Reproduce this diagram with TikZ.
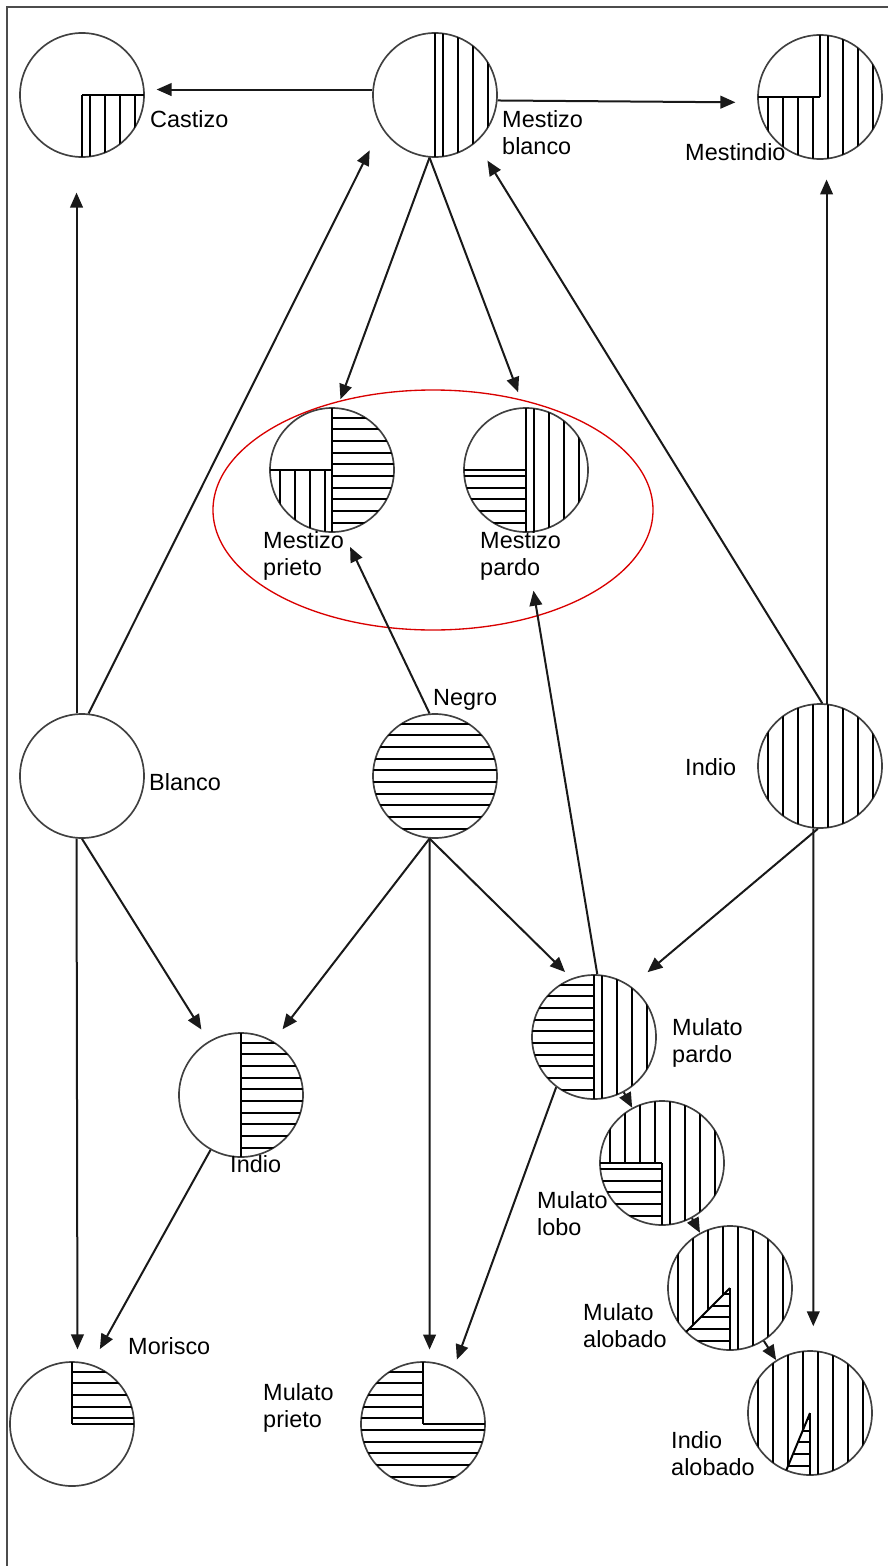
\documentclass[tikz,border=0pt]{standalone}
\usepackage{fontspec}
\setmainfont{Liberation Sans}
\usetikzlibrary{arrows.meta}
\tikzset{>={Triangle[length=0.45cm,width=0.38cm]}}
\colorlet{myred}{red!85!black}
\colorlet{mygray}{black!75}

\tikzset{
  caste/.style={circle, draw=mygray, line width=0.05cm, minimum size=3.72cm, inner sep=0pt},
  hatch/.style={line width=0.06cm, black},
  arr/.style={->, line width=0.06cm, black!90},
  lbl/.style={anchor=base west, align=left, inner sep=0pt, font=\fontsize{20}{23}\selectfont},
}

\def\rad{1.86cm}
\def\vsp{0.45cm}
\def\hsp{0.35cm}

% vertical / horizontal lines in a sector of a circle node
\newcommand{\vsec}[3]{%
  \begin{scope}
    \clip (#1.center) -- ++(#2:\rad) arc[start angle=#2, end angle=#3, radius=\rad] -- cycle;
    \foreach \k in {-4.5,-3.5,...,4.5}
      \draw[hatch] ([xshift=\k*\vsp]#1.center) ++(0,-2cm) -- ++(0,4cm);
  \end{scope}}
\newcommand{\hsec}[3]{%
  \begin{scope}
    \clip (#1.center) -- ++(#2:\rad) arc[start angle=#2, end angle=#3, radius=\rad] -- cycle;
    \foreach \k in {-5.5,-4.5,...,5.5}
      \draw[hatch] ([yshift=\k*\hsp]#1.center) ++(-2cm,0) -- ++(4cm,0);
  \end{scope}}
\newcommand{\cutline}[2]{\draw[hatch] (#1.center) -- ++(#2:\rad);}

\begin{document}
\begin{tikzpicture}[x=0.03cm, y=-0.03cm]
    \useasboundingbox (0,0) rectangle (888,1566);
    \draw[line width=0.06cm, black!70] (7,1566) -- (7,7) -- (888,7);

    % top row
    \node[caste] (castizo) at (82,95) {};
    \node[caste] (mblanco) at (435,95) {};
    \node[caste] (mestindio) at (820,97) {};
    % mestizo group
    \node[caste] (mprieto) at (332,470) {};
    \node[caste] (mpardo) at (526,470) {};
    % parents
    \node[caste] (blanco) at (82,776) {};
    \node[caste] (negro) at (435,776) {};
    \node[caste] (indio) at (820,766) {};
    % lower part
    \node[caste] (indiomid) at (241,1095) {};
    \node[caste] (mulpardo) at (594,1037) {};
    \node[caste] (mullobo) at (662,1163) {};
    \node[caste] (mulalob) at (730,1288) {};
    \node[caste] (morisco) at (72,1424) {};
    \node[caste] (mulprieto) at (423,1424) {};
    \node[caste] (indioalob) at (810,1413) {};

    \vsec{castizo}{-90}{0} \cutline{castizo}{-90} \cutline{castizo}{0}
    \vsec{mblanco}{-90}{90} \cutline{mblanco}{-90} \cutline{mblanco}{90}
    \vsec{mestindio}{180}{450} \cutline{mestindio}{180} \cutline{mestindio}{90}
    \hsec{mprieto}{-90}{90} \vsec{mprieto}{180}{270}
    \cutline{mprieto}{-90} \cutline{mprieto}{90} \cutline{mprieto}{180}
    \vsec{mpardo}{-90}{90} \hsec{mpardo}{180}{270}
    \cutline{mpardo}{-90} \cutline{mpardo}{90} \cutline{mpardo}{180}
    \hsec{negro}{0}{360}
    \vsec{indio}{0}{360}
    \hsec{indiomid}{-90}{90} \cutline{indiomid}{-90} \cutline{indiomid}{90}
    \hsec{mulpardo}{90}{270} \vsec{mulpardo}{-90}{90}
    \cutline{mulpardo}{-90} \cutline{mulpardo}{90}
    \vsec{mullobo}{-90}{180} \hsec{mullobo}{180}{270}
    \cutline{mullobo}{180} \cutline{mullobo}{270}
    \vsec{mulalob}{-90}{225} \hsec{mulalob}{225}{270}
    \cutline{mulalob}{225} \cutline{mulalob}{270}
    \vsec{indioalob}{-90}{247.5} \hsec{indioalob}{247.5}{270}
    \cutline{indioalob}{247.5} \cutline{indioalob}{270}
    \hsec{morisco}{0}{90} \cutline{morisco}{0} \cutline{morisco}{90}
    \hsec{mulprieto}{90}{360} \cutline{mulprieto}{0} \cutline{mulprieto}{90}

    \draw[myred, line width=0.04cm] (433,510) ellipse[x radius=6.6cm, y radius=3.6cm];

    % base is the last line of a two-line label
    \node[lbl] (castizo-l) at (150,127) {Castizo};
    \node[lbl] (mblanco-l) at (502,154) {Mestizo\\blanco};
    \node[lbl] (mestindio-l) at (685,160) {Mestindio};
    \node[lbl] (mprieto-l) at (263,575) {Mestizo\\prieto};
    \node[lbl] (mpardo-l) at (480,575) {Mestizo\\pardo};
    \node[lbl] (negro-l) at (433,705) {Negro};
    \node[lbl] (blanco-l) at (149,790) {Blanco};
    \node[lbl] (indio-l) at (685,775) {Indio};
    \node[lbl] (indiomid-l) at (230,1172) {Indio};
    \node[lbl] (mulpardo-l) at (672,1062) {Mulato\\pardo};
    \node[lbl] (mullobo-l) at (537,1235) {Mulato\\lobo};
    \node[lbl] (mulalob-l) at (583,1347) {Mulato\\alobado};
    \node[lbl] (morisco-l) at (128,1354) {Morisco};
    \node[lbl] (mulprieto-l) at (263,1427) {Mulato\\prieto};
    \node[lbl] (indioalob-l) at (671,1475) {Indio\\alobado};

    % crosses
    \draw[arr, shorten >=0.36cm] (mblanco.175) -- (castizo.5);
    \draw[arr, shorten >=0.66cm] (mblanco.-5) -- (mestindio.185);
    \draw[arr, shorten >=1.05cm] (blanco.95) -- (castizo.265);
    \draw[arr, shorten >=0.77cm] (blanco.84) -- (mblanco.211);
    \draw[arr, shorten >=0.64cm] (indio.88) -- (mblanco.311);
    \draw[arr, shorten >=0.6cm] (indio.84) -- (mestindio.276);
    \draw[arr, shorten >=0.26cm] (mblanco.265) -- (mprieto.85);
    \draw[arr, shorten >=0.48cm] (mblanco.265) -- (mpardo.92);
    \draw[arr, shorten >=0.5cm] (negro.95) -- (mprieto.280);
    \draw[arr, shorten >=1.76cm] (mulpardo.87) -- (mpardo.268);
    \draw[arr, shorten >=0.41cm] (blanco.270) -- (indiomid.121);
    \draw[arr, shorten >=0.45cm] (negro.265) -- (indiomid.59);
    \draw[arr, shorten >=0.27cm] (negro.265) -- (mulpardo.111);
    \draw[arr, shorten >=0.65cm] (indio.268) -- (mulpardo.54);
    \draw[arr, shorten >=0.36cm] (negro.265) -- (mulprieto.84);
    \draw[arr, shorten >=0.36cm] (blanco.265) -- (morisco.85);
    \draw[arr, shorten >=0.72cm] (indio.264) -- (indioalob.87);
    \draw[arr, shorten >=0.52cm] (indiomid.241) -- (morisco.72);
    \draw[arr, shorten >=0.3cm] (mulpardo.233) -- (mulprieto.61);
    \draw[arr] (mulpardo) -- (mullobo);
    \draw[arr] (mullobo) -- (mulalob);
    \draw[arr] (mulalob) -- (indioalob);

\end{tikzpicture}
\end{document}
